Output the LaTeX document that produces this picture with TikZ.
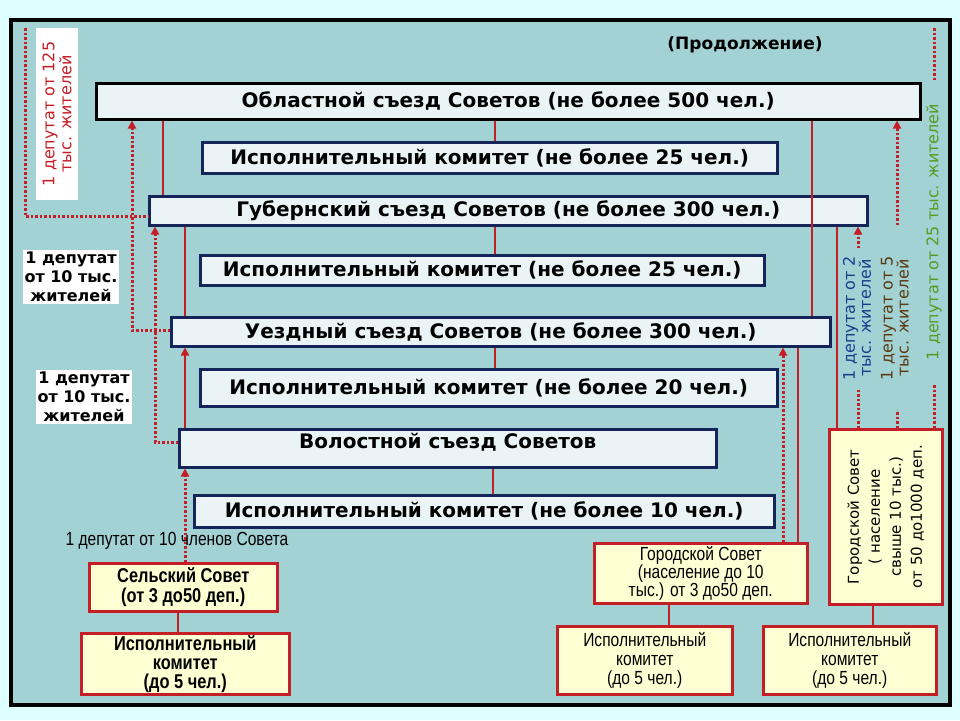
\documentclass[tikz,border=0pt]{standalone}
\usepackage{fontspec}
\setmainfont{DejaVu Sans}
\newfontfamily\narrowf[FakeStretch=0.82]{Liberation Sans}
\usetikzlibrary{arrows.meta,calc}
\definecolor{outerbg}{HTML}{DDFFFF}
\definecolor{panel}{HTML}{A3D2D5}
\definecolor{lred}{HTML}{C41E26}
\definecolor{navy}{HTML}{15255A}
\definecolor{boxf}{HTML}{EAF4F6}
\definecolor{cream}{HTML}{FFFFD4}
\definecolor{blu}{HTML}{1E3C8C}
\definecolor{olive}{HTML}{5A3A10}
\definecolor{grn}{HTML}{5A9A20}
\tikzset{
 bx/.style={draw=navy,line width=2.5pt,fill=boxf,anchor=north west,inner sep=0pt,font=\bfseries\fontsize{20}{22}\selectfont},
 cb/.style={draw=lred,line width=2.5pt,fill=cream,anchor=north west,inner sep=0pt,align=center},
 sl/.style={draw=lred,line width=2.5pt},
 dl/.style={draw=lred,line width=3pt,dash pattern=on 2.5pt off 2pt},
 ar/.style={-{Triangle[length=8pt,width=8pt]}},
 wl/.style={fill=white,align=center,inner sep=2pt,font=\bfseries\fontsize{16}{19}\selectfont},
 mt/.style={font=\bfseries\fontsize{20}{22}\selectfont},
}
\begin{document}
\begin{tikzpicture}[x=1pt,y=-1pt]
\fill[outerbg] (0,0) rectangle (960,720);
\draw[fill=panel,line width=4pt] (11,20) rectangle (950,705);
\node[font=\bfseries\fontsize{17}{19}\selectfont] (cont) at (745,45) {(Продолжение)};
\node[bx,draw=black,minimum width=824pt,minimum height=36pt] (obl) at (95,82) {};
\node[mt] at (obl.center) {Областной съезд Советов (не более 500 чел.)};
\node[bx,minimum width=575pt,minimum height=31pt] (ik1) at (201,141) {Исполнительный комитет (не более 25 чел.)};
\node[bx,minimum width=718pt,minimum height=29pt] (gub) at (148,195) {};
\node[mt] at (gub.center) {Губернский съезд Советов (не более 300 чел.)};
\node[bx,minimum width=564pt,minimum height=30pt] (ik2) at (199,254) {Исполнительный комитет (не более 25 чел.)};
\node[bx,minimum width=659pt,minimum height=29pt] (uez) at (170,316) {};
\node[mt] at (uez.center) {Уездный съезд Советов (не более 300 чел.)};
\node[bx,minimum width=577pt,minimum height=37pt] (ik3) at (199,368) {Исполнительный комитет (не более 20 чел.)};
\node[bx,minimum width=537pt,minimum height=38pt] (vol) at (178,428) {};
\node[mt] at ($(vol.north)+(0,14)$) {Волостной съезд Советов};
\node[bx,minimum width=580pt,minimum height=32pt] (ik4) at (193,494) {Исполнительный комитет (не более 10 чел.)};
\node[cb,minimum width=188pt,minimum height=48pt,font=\narrowf\bfseries\fontsize{20}{20}\selectfont] (sel) at (88,562) {Сельский Совет\\(от 3 до50 деп.)};
\node[cb,minimum width=208pt,minimum height=61pt,font=\narrowf\bfseries\fontsize{20}{19}\selectfont] (iks) at (80,632) {Исполнительный\\комитет\\(до 5 чел.)};
\node[cb,minimum width=213pt,minimum height=60pt,font=\narrowf\fontsize{19}{18}\selectfont] (gs) at (593,542) {Городской Совет\\(население до 10\\тыс.) от 3 до50 деп.};
\node[cb,minimum width=175pt,minimum height=68pt,font=\narrowf\fontsize{19}{19}\selectfont] (ikg) at (556,625) {Исполнительный\\комитет\\(до 5 чел.)};
\node[cb,minimum width=113pt,minimum height=175pt] (gl) at (828,428) {};
\node[rotate=90,align=center,font=\fontsize{15}{21}\selectfont] at (gl.center) {Городской Совет\\( население\\свыше 10 тыс.)\\от 50 до1000 деп.};
\node[cb,minimum width=173pt,minimum height=68pt,font=\narrowf\fontsize{19}{19}\selectfont] (ikl) at (762,625) {Исполнительный\\комитет\\(до 5 чел.)};
% solid connectors
\draw[sl] (obl.south -| 495,0) -- (ik1.north -| 495,0);
\draw[sl] (gub.south -| 495,0) -- (ik2.north -| 495,0);
\draw[sl] (uez.south -| 495,0) -- (ik3.north -| 495,0);
\draw[sl] (vol.south -| 493,0) -- (ik4.north -| 493,0);
\draw[sl] (gub.north -| 163,0) -- (obl.south -| 163,0);
\draw[sl] (uez.north -| 185,0) -- (gub.south -| 185,0);
\draw[sl,ar] (vol.north -| 185,0) -- (uez.south -| 185,0);
\draw[sl] (obl.south -| 812,0) -- (uez.north -| 812,0);
\draw[sl] (uez.south -| 798,0) -- (gs.north -| 798,0);
\draw[sl] (gub.south -| 837,0) -- (gl.north -| 837,0);
\draw[sl] (sel.south -| 178,0) -- (iks.north -| 178,0);
\draw[sl] (gs.south -| 669,0) -- (ikg.north -| 669,0);
\draw[sl] (gl.south -| 873,0) -- (ikl.north -| 873,0);
% dotted
\coordinate (tl) at (25,28);
\coordinate (c1) at (25,216);
\draw[dl] (tl) -- (c1) -- (gub.west |- c1);
\coordinate (c2) at (132,330);
\draw[dl,ar] (uez.west |- c2) -- (c2) -- (obl.south -| c2);
\coordinate (c3) at (155,442);
\draw[dl,ar] (vol.west |- c3) -- (c3) -- (gub.south -| c3);
\draw[dl,ar] (sel.north -| 185,0) -- (vol.south -| 185,0);
\draw[dl,ar] (gs.north -| 783,0) -- (uez.south -| 783,0);
\coordinate (d1) at (858,388); \coordinate (d1b) at (858,248);
\draw[dl] (gl.north -| d1) -- (d1);
\draw[dl,ar] (d1b) -- (gub.south -| d1b);
\coordinate (d2) at (897,410); \coordinate (d2b) at (897,225);
\draw[dl] (gl.north -| d2) -- (d2);
\draw[dl,ar] (d2b) -- (obl.south -| d2b);
\coordinate (d3) at (934,385); \coordinate (d3b) at (934,80); \coordinate (d3t) at (934,28);
\draw[dl] (gl.north -| d3) -- (d3);
\draw[dl] (d3b) -- (d3t);
% labels
\node[fill=white,rotate=90,align=center,text=lred,font=\fontsize{16}{17}\selectfont,minimum width=172pt,minimum height=42pt,inner sep=0pt] (l125) at (57,114) {1 депутат от 125\\тыс. жителей};
\node[wl] (l10a) at (71,277) {1 депутат\\от 10 тыс.\\жителей};
\node[wl] (l10b) at (84,397) {1 депутат\\от 10 тыс.\\жителей};
\node[font=\narrowf\fontsize{19}{20}\selectfont] (lch) at (177,541) {1 депутат от 10 членов Совета};
\node[rotate=90,align=center,text=blu,font=\fontsize{16}{16}\selectfont] (l2) at (857,318) {1 депутат от 2\\тыс. жителей};
\node[rotate=90,align=center,text=olive,font=\fontsize{16}{16}\selectfont] (l5) at (895,318) {1 депутат от 5\\тыс. жителей};
\node[rotate=90,align=center,text=grn,font=\fontsize{16}{16}\selectfont] (l25) at (934,232) {1 депутат от 25 тыс. жителей};
\end{tikzpicture}
\end{document}
